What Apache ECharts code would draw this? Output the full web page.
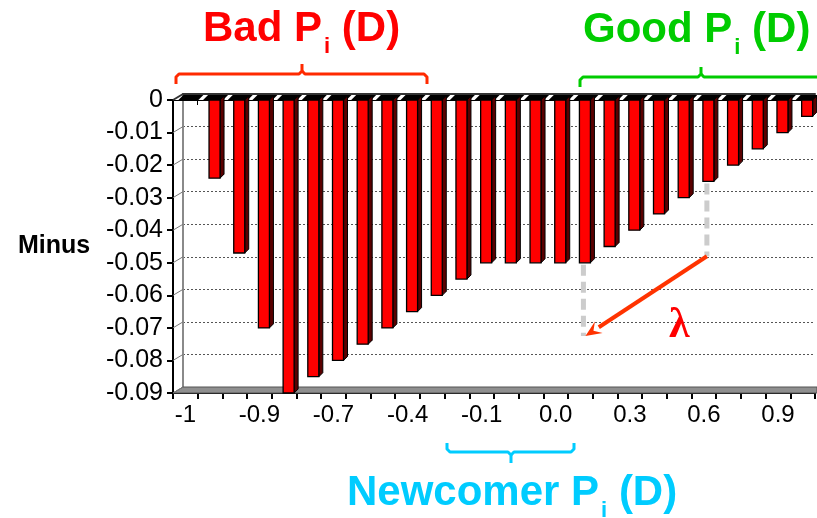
<!DOCTYPE html>
<html><head><meta charset="utf-8">
<script src="https://cdn.jsdelivr.net/npm/echarts@6/dist/echarts.min.js"></script>
<style>html,body{margin:0;padding:0;background:#fff}#c{width:817px;height:518px}</style>
</head><body><div id="c"></div>
<script>
// ---- data ----
const categoryCount = 26;
const xTickLabels = ['-1', '-0.9', '-0.7', '-0.4', '-0.1', '0.0', '0.3', '0.6', '0.9'];
const values = [0, -0.024, -0.047, -0.07, -0.09, -0.085, -0.08, -0.075, -0.07, -0.065, -0.06, -0.055,
  -0.05, -0.05, -0.05, -0.05, -0.05, -0.045, -0.04, -0.035, -0.03, -0.025, -0.02, -0.015, -0.01, -0.005];
const yTicks = [0, -0.01, -0.02, -0.03, -0.04, -0.05, -0.06, -0.07, -0.08, -0.09];
const yAxisName = 'Minus';
const guideLines = [[16, -0.05, -0.0725], [21, -0.025, -0.048]];
const arrowFrom = [21, -0.048];
const arrowTo = [16, -0.0725];
const lambdaPos = [19.55, -0.0695];
const groups = [
  { main: 'Bad P', sub: 'i', tail: ' (D)', color: '#ff0000' },
  { main: 'Good P', sub: 'i', tail: ' (D)', color: '#00cc00' },
  { main: 'Newcomer P', sub: 'i', tail: ' (D)', color: '#00ccff' }
];

const categories = [];
for (let i = 0; i < categoryCount; i++) categories.push(String(i));

const FONT = "'Liberation Sans', Arial, sans-serif";
const chart = echarts.init(document.getElementById('c'), null, { renderer: 'canvas' });

const option = {
  animation: false,
  grid: [
    { left: 173, right: 2, top: 100, bottom: 125 },
    { left: 183, right: 2, top: 94, bottom: 131 }
  ],
  xAxis: [
    {
      gridIndex: 0, type: 'category', data: categories, position: 'bottom',
      axisLine: { onZero: false, lineStyle: { color: '#000', width: 2 } },
      axisTick: { show: true, interval: 0, length: 6, lineStyle: { color: '#000', width: 2 } },
      axisLabel: {
        interval: 2, margin: 10, fontSize: 24, color: '#000', fontFamily: FONT,
        formatter: (v, idx) => (idx % 3 === 0 ? (xTickLabels[idx / 3] || '') : '')
      },
      splitLine: { show: false }
    },
    {
      gridIndex: 1, type: 'category', data: categories, position: 'top',
      axisLine: { onZero: false, lineStyle: { color: '#333', width: 2 } },
      axisTick: { show: false }, axisLabel: { show: false }, splitLine: { show: false }
    },
    {
      gridIndex: 0, type: 'category', data: categories, position: 'top',
      axisLine: { onZero: false, lineStyle: { color: '#000', width: 1 } },
      axisTick: { show: true, inside: true, interval: 0, length: 5, lineStyle: { color: '#000', width: 1 } },
      axisLabel: { show: false }, splitLine: { show: false }
    }
  ],
  yAxis: [
    {
      gridIndex: 0, type: 'value', min: -0.09, max: 0, interval: 0.01,
      axisLine: { show: true, lineStyle: { color: '#000', width: 2 } },
      axisTick: { show: true, length: 6, lineStyle: { color: '#000', width: 2 } },
      axisLabel: {
        margin: 10, fontSize: 25, color: '#000', fontFamily: FONT,
        formatter: v => String(+(+v).toFixed(2))
      },
      splitLine: { show: false }
    },
    {
      gridIndex: 1, type: 'value', min: -0.09, max: 0, interval: 0.01,
      axisLine: { show: true, lineStyle: { color: '#8a8a8a', width: 2 } },
      axisTick: { show: false }, axisLabel: { show: false },
      splitLine: { show: true, lineStyle: { color: '#555', width: 1, type: [2, 2] } }
    }
  ],
  series: [{
    type: 'custom', xAxisIndex: 0, yAxisIndex: 0, z: 5, clip: false,
    data: values.map((v, i) => [i, v]),
    renderItem(params, api) {
      const i = api.value(0), v = api.value(1);
      const p0 = api.coord([i, 0]);
      const p1 = api.coord([i, v]);
      const cx = p0[0], y0 = p0[1], y1 = p1[1];
      const w = 11, d = 4;
      const ch = [];
      ch.push({ type: 'polygon', shape: { points: [[cx - 7, y0], [cx - 2, y0 - 5], [cx + 18, y0 - 5], [cx + 13, y0]] },
        style: { fill: '#000' } });
      if (y1 - y0 > 0.5) {
        ch.push({ type: 'polygon', shape: { points: [[cx + w - 1, y0], [cx + w - 1 + d, y0 - d], [cx + w - 1 + d, y1 - d], [cx + w - 1, y1]] },
          style: { fill: '#5a0000', stroke: '#000', lineWidth: 1 } });
        ch.push({ type: 'rect', shape: { x: cx - 1, y: y0, width: w, height: y1 - y0 },
          style: { fill: '#ff0000', stroke: '#000', lineWidth: 1.3 } });
      }
      return { type: 'group', children: ch };
    }
  }]
};
chart.setOption(option);

// ---- decorations derived from the axes ----
const g = [];
const px = (c, v) => chart.convertToPixel({ gridIndex: 0 }, [c, v]);
const front0 = chart.getModel().getComponent('grid', 0).coordinateSystem.getRect();
const back = chart.getModel().getComponent('grid', 1).coordinateSystem.getRect();
const dx = back.x - front0.x, dy = back.y - front0.y;

// floor
g.push({ type: 'polygon', z: 1, shape: { points: [
  [front0.x, front0.y + front0.height], [back.x, back.y + back.height],
  [front0.x + front0.width + 2, back.y + back.height], [front0.x + front0.width + 2, front0.y + front0.height]] },
  style: { fill: '#8f8f8f', stroke: '#555', lineWidth: 1 } });
// top slant and y tick connectors
yTicks.forEach(t => {
  const p = px(0, t);
  g.push({ type: 'line', z: 1, shape: { x1: front0.x, y1: p[1], x2: front0.x + dx, y2: p[1] + dy },
    style: { stroke: t === 0 ? '#333' : '#777', lineWidth: t === 0 ? 2 : 1 } });
});

// grey dashed guides
guideLines.forEach(([c, a, b]) => {
  const pa = px(c, a), pb = px(c, b);
  g.push({ type: 'line', z: 20, shape: { x1: pa[0] + 3, y1: pa[1] + 2, x2: pb[0] + 3, y2: pb[1] },
    style: { stroke: '#cccccc', lineWidth: 5, lineDash: [11, 6] } });
});
// arrow
{
  const a = px(arrowFrom[0], arrowFrom[1]); a[0] += 3;
  const b = px(arrowTo[0], arrowTo[1]); b[0] += 5;
  const ang = Math.atan2(b[1] - a[1], b[0] - a[0]);
  const L = 16, W = 7;
  const bx = b[0] - L * Math.cos(ang), by = b[1] - L * Math.sin(ang);
  g.push({ type: 'line', z: 21, shape: { x1: a[0], y1: a[1], x2: bx, y2: by },
    style: { stroke: '#ff3300', lineWidth: 4 } });
  g.push({ type: 'polygon', z: 21, shape: { points: [
    [b[0], b[1]],
    [bx + W * Math.sin(ang), by - W * Math.cos(ang)],
    [b[0] - 0.6 * L * Math.cos(ang), b[1] - 0.6 * L * Math.sin(ang)],
    [bx - W * Math.sin(ang), by + W * Math.cos(ang)]] },
    style: { fill: '#ff3300' } });
  const lp = px(lambdaPos[0], lambdaPos[1]);
  g.push({ type: 'text', z: 21, x: lp[0], y: lp[1], style: { text: 'λ', fill: '#ff0000',
    font: "bold 42px 'Liberation Serif', 'Times New Roman', serif", align: 'center', verticalAlign: 'middle' } });
}

// y axis name
g.push({ type: 'text', x: 18, y: 246, style: { text: yAxisName, fill: '#000',
  font: 'bold 25px ' + FONT, align: 'left', verticalAlign: 'middle' } });

// titles with subscript
const ctx = document.createElement('canvas').getContext('2d');
function measure(t, f) { ctx.font = f; return ctx.measureText(t).width; }
const titlePos = [[203, 44], [583, 45], [347, 508]];
groups.forEach((gr, k) => {
  const [x, base] = titlePos[k];
  const fMain = 'bold 42px ' + FONT, fSub = 'bold 22px ' + FONT;
  const w1 = measure(gr.main, fMain), w2 = measure(gr.sub, fSub);
  g.push({ type: 'text', x: x, y: base - 14.7, style: { text: gr.main, fill: gr.color, font: fMain, verticalAlign: 'middle' } });
  g.push({ type: 'text', x: x + w1 + 2, y: base + 11 - 7.7, style: { text: gr.sub, fill: gr.color, font: fSub, verticalAlign: 'middle' } });
  g.push({ type: 'text', x: x + w1 + w2 + 2, y: base - 14.7, style: { text: gr.tail, fill: gr.color, font: fMain, verticalAlign: 'middle' } });
});

// brackets
function bracket(x1, x2, xm, y, tipDy, endDy, color) {
  const s = { stroke: color, lineWidth: 3, fill: null, lineJoin: 'round' };
  const e = Math.sign(endDy) * 3, t = Math.sign(tipDy) * 3;
  g.push({ type: 'polyline', shape: { points: [[x1, y + endDy], [x1, y + e], [x1 + 3, y], [xm - 3, y], [xm, y + t], [xm, y + tipDy]] }, style: s });
  g.push({ type: 'polyline', shape: { points: [[xm, y + t], [xm + 3, y], [x2 - 3, y], [x2, y + e], [x2, y + endDy]] }, style: s });
}
bracket(176, 427, 302, 74, -10, 10, '#ff2a00');
bracket(580, 840, 701, 77, -10, 10, '#00cc00');
bracket(447, 574, 511, 452, 11, -9, '#00ccff');

chart.setOption({ graphic: { elements: g } });
</script></body></html>
